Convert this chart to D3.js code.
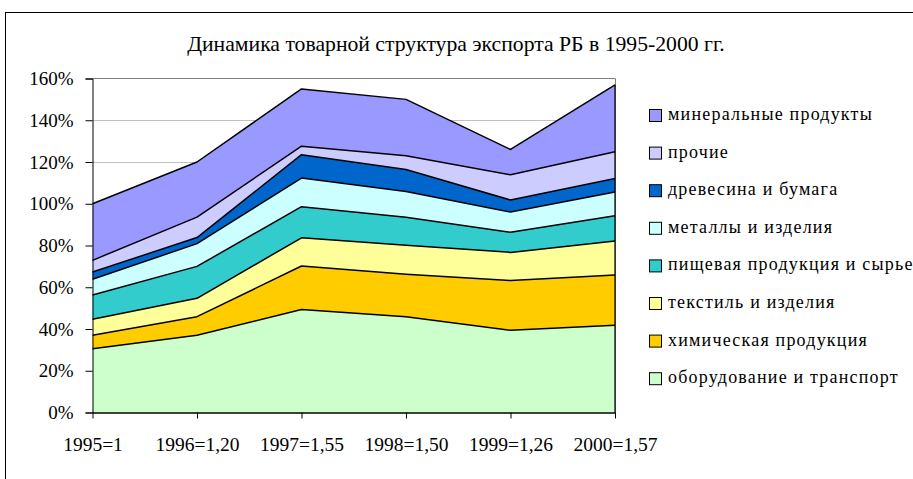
<!DOCTYPE html>
<html>
<head>
<meta charset="utf-8">
<script src="https://cdn.jsdelivr.net/npm/d3@7.9.0/dist/d3.min.js"></script>
<style>
  body { margin: 0; background: #fff; }
</style>
</head>
<body>
<svg id="chart" width="913" height="479"></svg>
<script>
// ===== Data (shares of 1995 export, %) =====
const years = ['1995=1', '1996=1,20', '1997=1,55', '1998=1,50', '1999=1,26', '2000=1,57'];

// series listed bottom to top
const seriesNames = [
  'оборудование и транспорт',
  'химическая продукция',
  'текстиль и изделия',
  'пищевая продукция и сырье',
  'металлы и изделия',
  'древесина и бумага',
  'прочие',
  'минеральные продукты'
];

const equipment = [30.5, 37.0, 49.3, 45.9, 39.4, 41.8];
const chemicals = [6.5, 8.9, 20.9, 20.3, 23.8, 24.1];
const textiles  = [7.7, 8.8, 13.5, 13.9, 13.5, 16.2];
const food      = [11.6, 15.3, 14.9, 13.4, 9.6, 12.2];
const metals    = [7.5, 10.9, 13.7, 12.4, 9.7, 11.3];
const wood      = [3.5, 2.9, 11.2, 10.5, 5.8, 6.5];
const other     = [5.6, 9.8, 4.1, 6.6, 12.1, 12.8];
const minerals  = [27.1, 26.4, 27.4, 27.0, 12.1, 32.1];

const seriesColors = ['#CCFFCC', '#FFCC00', '#FFFF99', '#33CCCC', '#CCFFFF', '#0066CC', '#CCCCFF', '#9999FF'];
const yTicks = [0, 20, 40, 60, 80, 100, 120, 140, 160];

const FONT = "'Liberation Serif', 'Times New Roman', serif";

// ===== Build table for d3.stack =====
const allSeries = [equipment, chemicals, textiles, food, metals, wood, other, minerals];
const table = years.map((y, i) => {
  const row = { year: y };
  seriesNames.forEach((name, k) => { row[name] = allSeries[k][i]; });
  return row;
});

const svg = d3.select('#chart');

// outer chart border
svg.append('rect')
  .attr('x', 5.5).attr('y', 12.5)
  .attr('width', 940).attr('height', 500)
  .attr('fill', 'none').attr('stroke', '#000').attr('stroke-width', 1);

// title
svg.append('text')
  .attr('x', 456).attr('y', 51)
  .attr('text-anchor', 'middle')
  .style('font-family', FONT)
  .style('font-size', '21.7px')
  .text('Динамика товарной структура экспорта РБ в 1995-2000 гг.');

// ===== Scales =====
const x = d3.scalePoint().domain(years).range([92.5, 615]);
const y = d3.scaleLinear().domain([0, 160]).range([412.5, 78.5]);

// gridlines
svg.append('g')
  .selectAll('line')
  .data(yTicks.filter(t => t > 0 && t < 160))
  .join('line')
  .attr('x1', 92.5).attr('x2', 615)
  .attr('y1', d => Math.round(y(d)) + 0.5).attr('y2', d => Math.round(y(d)) + 0.5)
  .attr('stroke', '#c0c0c0').attr('stroke-width', 1);

// plot frame (top and right)
svg.append('path')
  .attr('d', `M92.5,${y(160)}H615.5V${y(0)}`)
  .attr('fill', 'none').attr('stroke', '#808080').attr('stroke-width', 1);

// ===== Stacked areas =====
const stack = d3.stack().keys(seriesNames);
const stacked = stack(table);

const area = d3.area()
  .x(d => x(d.data.year))
  .y0(d => y(d[0]))
  .y1(d => y(d[1]));

const line = d3.line()
  .x(d => x(d.data.year))
  .y(d => y(d[1]));

svg.append('g')
  .selectAll('path')
  .data(stacked)
  .join('path')
  .attr('d', area)
  .attr('fill', (d, i) => seriesColors[i]);

svg.append('g')
  .selectAll('path')
  .data(stacked)
  .join('path')
  .attr('d', line)
  .attr('fill', 'none')
  .attr('stroke', '#000')
  .attr('stroke-width', 1.5)
  .attr('stroke-linejoin', 'round');

// right edge line of the stack
svg.append('line')
  .attr('x1', 615).attr('x2', 615)
  .attr('y1', y(0)).attr('y2', y(d3.sum(allSeries, s => s[5])))
  .attr('stroke', '#000').attr('stroke-width', 1.2);

// ===== Axes =====
const yAxis = d3.axisLeft(y)
  .tickValues(yTicks)
  .tickSize(7)
  .tickPadding(12)
  .tickFormat(d => d + '%');

svg.append('g')
  .attr('transform', 'translate(92.5,0)')
  .call(yAxis)
  .call(g => g.select('.domain').attr('stroke', '#000'))
  .call(g => g.selectAll('text')
    .style('font-family', FONT)
    .style('font-size', '19px').attr('fill', '#000'));

const xAxis = d3.axisBottom(x)
  .tickSize(6)
  .tickPadding(19)
  .tickSizeOuter(0);

svg.append('g')
  .attr('transform', `translate(0,${y(0)})`)
  .call(xAxis)
  .call(g => g.select('.domain').attr('stroke', '#000').attr('stroke-width', 1.5))
  .call(g => g.selectAll('text')
    .style('font-family', FONT)
    .style('font-size', '19.5px').attr('fill', '#000'));

// ===== Legend (top to bottom = reverse of stack) =====
const legendItems = seriesNames.map((name, i) => ({ name, color: seriesColors[i] })).reverse();

const legend = svg.append('g').attr('transform', 'translate(649,0)');
const rows = legend.selectAll('g')
  .data(legendItems)
  .join('g')
  .attr('transform', (d, i) => `translate(0,${109 + i * 37.6})`);

rows.append('rect')
  .attr('x', 0.5).attr('y', 0.5)
  .attr('width', 12).attr('height', 12)
  .attr('fill', d => d.color)
  .attr('stroke', '#000').attr('stroke-width', 1);

rows.append('text')
  .attr('x', 19).attr('y', 11)
  .style('font-family', FONT)
  .style('font-size', '18px')
  .style('letter-spacing', '1.2px')
  .text(d => d.name);
</script>
</body>
</html>
